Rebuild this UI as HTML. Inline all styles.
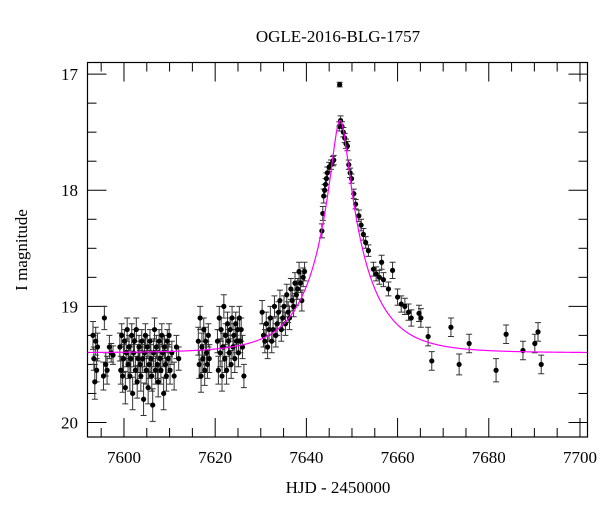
<!DOCTYPE html>
<html><head><meta charset="utf-8"><style>
html,body{margin:0;padding:0;background:#fff;}
svg{display:block;font-family:"Liberation Serif",serif;}
</style></head><body>
<svg id="chart" width="600" height="512" viewBox="0 0 600 512">
<text x="338" y="42" text-anchor="middle" font-size="17">OGLE-2016-BLG-1757</text>
<text x="338" y="493" text-anchor="middle" font-size="17">HJD - 2450000</text>
<text transform="translate(27,250) rotate(-90)" text-anchor="middle" font-size="17">I magnitude</text>
<g id="ticks"></g>
<g id="bars"></g>
<g id="pts"></g>
<path id="model" fill="none" stroke="#ff00ff" stroke-width="1.2"/>
<rect x="87.5" y="62.5" width="500" height="374.5" fill="none" stroke="#000" stroke-width="1.2"/>
</svg>
<script>
const xTicks=[7600,7620,7640,7660,7680,7700];
const yTicks=[17,18,19,20];
const hjd=[7593.2,7593.4,7593.6,7593.8,7594.0,7594.2,7595.5,7595.7,7596.0,7596.3,7596.8,7597.2,7597.6,
7599.1,7599.3,7599.5,7599.7,7599.9,7600.1,7600.3,7600.5,7600.7,7600.9,7601.1,7601.3,7601.5,7601.7,7601.9,7602.1,7602.3,7602.5,7602.7,7602.9,7603.1,7603.3,7603.5,7603.7,7603.9,7604.1,7604.3,7604.5,7604.7,7604.9,7605.1,7605.3,7605.5,7605.7,7605.9,7606.1,7606.3,7606.5,7606.7,7606.9,7607.1,7607.3,7607.5,7607.7,7607.9,7608.1,7608.3,7608.5,7608.7,7608.9,7609.1,7609.3,7609.5,7609.7,7609.9,7610.1,7610.5,7611.0,7611.5,7612.0,
7616.3,7616.5,7616.7,7616.9,7617.1,7617.3,7617.5,7617.7,7617.9,7618.1,7618.3,7618.5,7618.7,7620.5,7620.7,7620.9,7621.1,7621.3,7621.5,7621.7,7621.9,7622.1,7622.3,7622.5,7622.7,7622.9,7623.1,7623.3,7623.5,7623.7,7623.9,7624.1,7624.3,7624.5,7624.7,7624.9,7625.1,7625.3,7625.5,7625.7,7626.0,7626.3,
7630.3,7630.6,7630.9,7631.2,7631.5,7631.8,7632.1,7632.4,7632.7,7633.0,7633.3,7633.6,7633.9,7634.2,7634.5,7634.8,7635.1,7635.4,7635.7,7636.0,7636.3,7636.6,7636.9,7637.2,7637.5,7637.8,7638.1,7638.4,7638.7,7639.0,7639.3,7639.6,
7643.4,7643.6,7643.8,7644.0,7644.2,7644.4,7644.6,7645.0,7645.4,7645.8,7646.0,7647.3,7647.2,7647.5,7647.8,7648.1,7648.4,7648.7,7649.0,7649.3,7649.6,7649.9,7650.4,7650.8,7651.5,7652.0,7652.5,7653.0,7653.6,7654.7,7655.3,7656.0,7656.5,7656.9,7658.0,7658.9,7660.0,7660.8,7661.6,7662.4,7663.0,7664.7,7665.1,7666.7,7667.5,7671.7,7673.5,7675.7,7681.6,7683.8,7687.5,7690.1,7690.8,7691.5];
const imag=[19.25,19.45,19.65,19.3,19.55,19.35,19.6,19.1,19.5,19.55,19.35,19.4,19.42,
19.35,19.55,19.25,19.6,19.45,19.3,19.7,19.4,19.2,19.5,19.35,19.6,19.45,19.25,19.75,19.4,19.3,19.55,19.2,19.65,19.45,19.35,19.5,19.6,19.3,19.45,19.8,19.4,19.25,19.55,19.35,19.7,19.5,19.3,19.45,19.6,19.85,19.4,19.2,19.55,19.35,19.5,19.65,19.3,19.45,19.55,19.25,19.4,19.75,19.35,19.5,19.6,19.3,19.45,19.25,19.55,19.4,19.6,19.35,19.45,
19.3,19.5,19.1,19.6,19.35,19.45,19.2,19.55,19.3,19.4,19.5,19.25,19.45,19.3,19.55,19.1,19.4,19.2,19.6,19.35,19.0,19.45,19.25,19.55,19.15,19.3,19.4,19.2,19.5,19.1,19.35,19.25,19.45,19.15,19.3,19.2,19.4,19.1,19.3,19.2,19.35,19.6,
19.05,19.25,19.3,19.15,19.35,19.2,19.1,19.3,19.2,19.0,19.25,19.15,19.05,18.95,19.2,19.1,19.0,19.15,18.9,19.05,19.1,18.85,18.95,19.0,18.8,18.9,18.85,18.7,18.8,18.95,18.75,18.7,
18.35,18.2,18.05,18.0,17.95,17.9,17.85,17.8,17.78,17.75,17.74,17.09,17.45,17.4,17.45,17.5,17.55,17.6,17.62,17.78,17.85,17.9,18.03,18.12,18.22,18.3,18.38,18.45,18.52,18.68,18.72,18.75,18.62,18.77,18.85,18.69,18.92,18.98,19.0,19.05,19.1,19.06,19.1,19.26,19.47,19.18,19.5,19.32,19.55,19.24,19.38,19.32,19.22,19.5];
const merr=[0.12,0.1,0.15,0.12,0.1,0.12,0.12,0.1,0.1,0.12,0.1,0.08,0.08,
0.12,0.12,0.1,0.14,0.12,0.1,0.14,0.12,0.1,0.12,0.1,0.13,0.12,0.1,0.14,0.12,0.1,0.12,0.1,0.14,0.12,0.1,0.12,0.13,0.1,0.12,0.14,0.12,0.1,0.12,0.1,0.14,0.12,0.1,0.12,0.13,0.14,0.12,0.1,0.12,0.1,0.12,0.13,0.1,0.12,0.12,0.1,0.12,0.14,0.1,0.12,0.13,0.1,0.12,0.1,0.12,0.1,0.12,0.1,0.1,
0.12,0.12,0.1,0.14,0.12,0.12,0.1,0.13,0.12,0.1,0.12,0.1,0.12,0.1,0.12,0.1,0.12,0.1,0.13,0.12,0.1,0.12,0.1,0.12,0.1,0.1,0.12,0.1,0.12,0.1,0.1,0.1,0.12,0.1,0.1,0.1,0.12,0.1,0.1,0.1,0.1,0.1,
0.1,0.1,0.1,0.1,0.1,0.1,0.1,0.1,0.1,0.09,0.1,0.1,0.09,0.09,0.1,0.1,0.09,0.1,0.09,0.09,0.1,0.09,0.09,0.09,0.09,0.09,0.09,0.08,0.08,0.09,0.08,0.08,
0.06,0.06,0.06,0.05,0.05,0.05,0.05,0.04,0.04,0.04,0.04,0.02,0.04,0.04,0.04,0.04,0.04,0.04,0.04,0.04,0.04,0.04,0.04,0.04,0.05,0.05,0.05,0.05,0.05,0.06,0.06,0.06,0.06,0.06,0.06,0.07,0.07,0.07,0.07,0.07,0.07,0.07,0.08,0.08,0.08,0.08,0.09,0.08,0.1,0.08,0.08,0.08,0.08,0.08];
const modelT0=[7647.4], modelU0=[0.16], modelTE=[11], modelBase=[19.4];
const X0=87.5,X1=587.5,Y0=62.5,Y1=437;
const xmin=7592,xmax=7701.65,ymin=16.9,ymax=20.125;
const sx=t=>X0+(t-xmin)/(xmax-xmin)*(X1-X0);
const sy=m=>Y0+(m-ymin)/(ymax-ymin)*(Y1-Y0);
const NS='http://www.w3.org/2000/svg';
function mk(tag,attrs,parent){const e=document.createElementNS(NS,tag);for(const k in attrs)e.setAttribute(k,attrs[k]);parent.appendChild(e);return e;}
const tg=document.getElementById('ticks');
for(let t=7595;t<=7700;t+=5){const maj=t%20===0;const L=maj?19:9;const x=sx(t);
 const a=mk('line',{x1:x,x2:x,y1:Y1,y2:Y1-L,stroke:'#000','stroke-width':1},tg);
 
 const b=mk('line',{x1:x,x2:x,y1:Y0,y2:Y0+L,stroke:'#000','stroke-width':1},tg);
 }
xTicks.forEach(t=>{const e=mk('text',{x:sx(t),y:463,'text-anchor':'middle','font-size':17},tg);e.textContent=t;
 });
for(let i=0;i<=13;i++){const m=17+i*0.25;if(m>20.1)break;const maj=(i%4===0);const L=maj?19:9;const y=sy(m);
 const a=mk('line',{x1:X0,x2:X0+L,y1:y,y2:y,stroke:'#000','stroke-width':1},tg);
 
 const b=mk('line',{x1:X1,x2:X1-L,y1:y,y2:y,stroke:'#000','stroke-width':1},tg);
 }
yTicks.forEach(m=>{const e=mk('text',{x:78,y:sy(m)+6,'text-anchor':'end','font-size':17},tg);e.textContent=m;
 });
const bg=document.getElementById('bars'),pg=document.getElementById('pts');
hjd.forEach((t,i)=>{const x=sx(t),y=sy(imag[i]),ya=sy(imag[i]-merr[i]),yb=sy(imag[i]+merr[i]);
 const p=mk('path',{d:`M${x},${ya}V${yb}M${x-3},${ya}H${x+3}M${x-3},${yb}H${x+3}`,stroke:'#333','stroke-width':1,fill:'none'},bg);
 
 const c=mk('circle',{cx:x,cy:y,r:2.6,fill:'#000'},pg);
 });
let d='';
for(let t=xmin;t<=xmax;t+=0.1){const u=Math.sqrt(modelU0[0]**2+((t-modelT0[0])/modelTE[0])**2);
 const A=(u*u+2)/(u*Math.sqrt(u*u+4));const m=modelBase[0]-2.5*Math.log10(A);
 d+=(d?'L':'M')+sx(t).toFixed(2)+','+sy(m).toFixed(2);}
document.getElementById('model').setAttribute('d',d);
</script>
</body></html>
